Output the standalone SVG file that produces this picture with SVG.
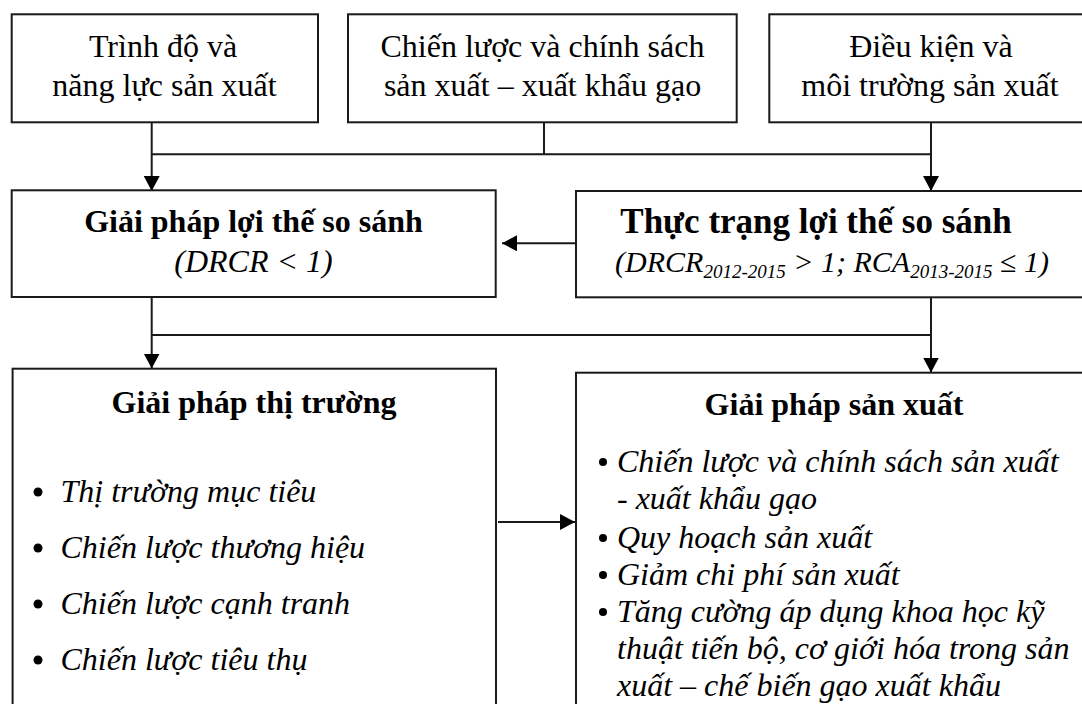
<svg xmlns="http://www.w3.org/2000/svg" width="1082" height="704" viewBox="0 0 1082 704">
  <style>
    .box { fill: #ffffff; stroke: #1a1a1a; stroke-width: 2; }
    .wire { fill: none; stroke: #1a1a1a; stroke-width: 2; }
    text { font-family: "Liberation Serif", "Times New Roman", serif; fill: #000000; }
    .plain { font-size: 32px; }
    .title { font-size: 32px; font-weight: bold; }
    .title-lg { font-size: 35px; font-weight: bold; }
    .it { font-size: 32px; font-style: italic; }
    .it-sm { font-size: 30px; font-style: italic; }
    .sub { font-size: 19px; }
    .mid { text-anchor: middle; }
    .dot { fill: #000000; }
  </style>
  <defs>
    <marker id="arrow" markerUnits="userSpaceOnUse" markerWidth="16" markerHeight="16" refX="15" refY="8" orient="auto">
      <path d="M0,0 L15,8 L0,16 Z" fill="#000000"/>
    </marker>
  </defs>

  <rect width="1082" height="704" fill="#ffffff"/>

  <!-- connectors -->
  <g id="connectors">
    <path class="wire" d="M151.7 122 V191" marker-end="url(#arrow)"/>
    <path class="wire" d="M544 122 V154.3"/>
    <path class="wire" d="M151.7 154.3 H931"/>
    <path class="wire" d="M931 122 V191" marker-end="url(#arrow)"/>
    <path class="wire" d="M576 243.3 H502" marker-end="url(#arrow)"/>
    <path class="wire" d="M151.7 297 V368.5" marker-end="url(#arrow)"/>
    <path class="wire" d="M151.7 335 H931"/>
    <path class="wire" d="M931 297 V372.5" marker-end="url(#arrow)"/>
    <path class="wire" d="M498 522 H575" marker-end="url(#arrow)"/>
  </g>

  <!-- top row -->
  <g id="trinh-do">
    <rect class="box" x="11.7" y="14.3" width="306.3" height="108"/>
    <text class="plain mid" x="163" y="57">Trình độ và</text>
    <text class="plain mid" x="164.5" y="96">năng lực sản xuất</text>
  </g>
  <g id="chien-luoc">
    <rect class="box" x="348" y="14.3" width="388.7" height="108"/>
    <text class="plain mid" x="542.5" y="57">Chiến lược và chính sách</text>
    <text class="plain mid" x="542.5" y="96">sản xuất – xuất khẩu gạo</text>
  </g>
  <g id="dieu-kien">
    <rect class="box" x="769.3" y="14.3" width="340" height="108"/>
    <text class="plain mid" x="931" y="57">Điều kiện và</text>
    <text class="plain mid" x="930" y="96">môi trường sản xuất</text>
  </g>

  <!-- middle row -->
  <g id="giai-phap-loi-the">
    <rect class="box" x="11.7" y="190.3" width="484" height="106.7"/>
    <text class="title mid" x="253.5" y="232">Giải pháp lợi thế so sánh</text>
    <text class="it mid" x="253.5" y="272">(DRCR &lt; 1)</text>
  </g>
  <g id="thuc-trang">
    <rect class="box" x="576" y="191" width="520" height="106.3"/>
    <text class="title-lg mid" x="816" y="233">Thực trạng lợi thế so sánh</text>
    <text class="it-sm mid" x="832" y="272">(DRCR<tspan class="sub" dy="6">2012-2015</tspan><tspan dy="-6"> &gt; 1; RCA</tspan><tspan class="sub" dy="6">2013-2015</tspan><tspan dy="-6"> ≤ 1)</tspan></text>
  </g>

  <!-- bottom row -->
  <g id="giai-phap-thi-truong">
    <rect class="box" x="12.6" y="368.7" width="483.4" height="400"/>
    <text class="title mid" x="254" y="413">Giải pháp thị trường</text>
    <circle class="dot" cx="38" cy="492" r="4.5"/>
    <text class="it" x="60.5" y="502">Thị trường mục tiêu</text>
    <circle class="dot" cx="38" cy="548" r="4.5"/>
    <text class="it" x="60.5" y="558">Chiến lược thương hiệu</text>
    <circle class="dot" cx="38" cy="604" r="4.5"/>
    <text class="it" x="60.5" y="614">Chiến lược cạnh tranh</text>
    <circle class="dot" cx="38" cy="660" r="4.5"/>
    <text class="it" x="60.5" y="670">Chiến lược tiêu thụ</text>
  </g>
  <g id="giai-phap-san-xuat">
    <rect class="box" x="576" y="372.7" width="520" height="400"/>
    <text class="title mid" x="834" y="415">Giải pháp sản xuất</text>
    <circle class="dot" cx="603" cy="462" r="4"/>
    <text class="it" x="617" y="472">Chiến lược và chính sách sản xuất</text>
    <text class="it" x="617" y="509">- xuất khẩu gạo</text>
    <circle class="dot" cx="603" cy="538" r="4"/>
    <text class="it" x="617" y="548">Quy hoạch sản xuất</text>
    <circle class="dot" cx="603" cy="575" r="4"/>
    <text class="it" x="617" y="585">Giảm chi phí sản xuất</text>
    <circle class="dot" cx="603" cy="612" r="4"/>
    <text class="it" x="617" y="622">Tăng cường áp dụng khoa học kỹ</text>
    <text class="it" x="617" y="659">thuật tiến bộ, cơ giới hóa trong sản</text>
    <text class="it" x="617" y="696">xuất – chế biến gạo xuất khẩu</text>
  </g>
</svg>
